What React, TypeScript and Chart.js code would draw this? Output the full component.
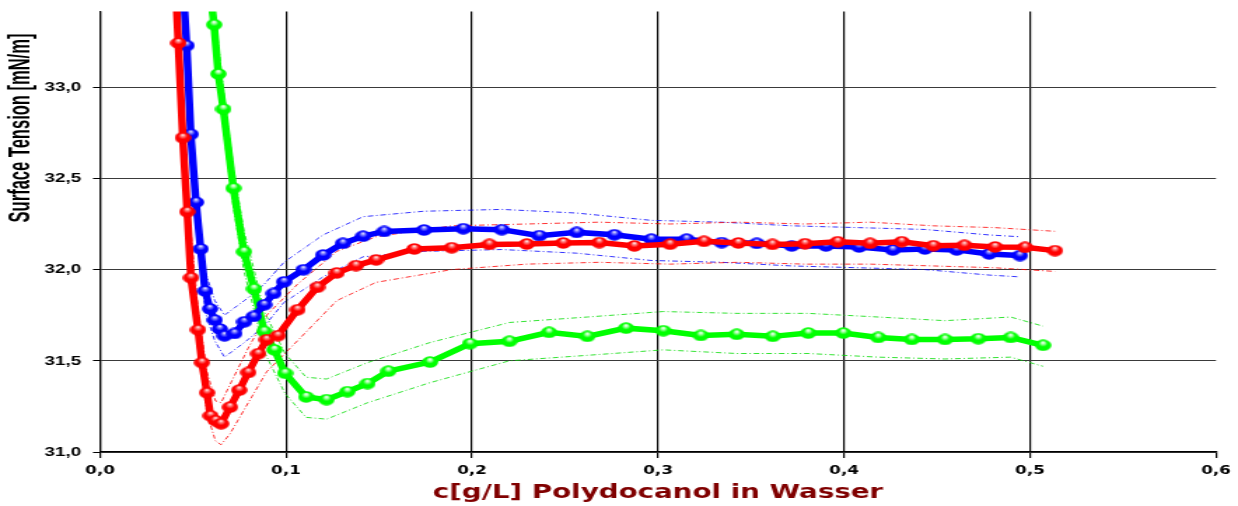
import React, { useEffect, useRef } from 'react';
import { Chart, registerables } from 'chart.js';

Chart.register(...registerables);

// ---- data ----
const redX = [0.0385, 0.0421, 0.0445, 0.0469, 0.0489, 0.0527, 0.0548, 0.0575, 0.0594, 0.0621, 0.0651, 0.0699, 0.0748, 0.0797, 0.0851, 0.0896, 0.0956, 0.1062, 0.1168, 0.1273, 0.1376, 0.1484, 0.1690, 0.1891, 0.2093, 0.2294, 0.2491, 0.2684, 0.2873, 0.3065, 0.3247, 0.3432, 0.3615, 0.3790, 0.3966, 0.4140, 0.4310, 0.4480, 0.4647, 0.4812, 0.4973, 0.5134];
const redY = [34.0, 33.242, 32.723, 32.317, 31.955, 31.670, 31.490, 31.325, 31.199, 31.172, 31.155, 31.246, 31.339, 31.436, 31.539, 31.616, 31.638, 31.780, 31.903, 31.982, 32.022, 32.053, 32.113, 32.120, 32.138, 32.140, 32.146, 32.148, 32.130, 32.139, 32.155, 32.146, 32.138, 32.142, 32.153, 32.144, 32.153, 32.131, 32.133, 32.124, 32.122, 32.104];

const blueX = [0.042, 0.0466, 0.0488, 0.0516, 0.0541, 0.0565, 0.0591, 0.0617, 0.0644, 0.0669, 0.0723, 0.0776, 0.0826, 0.0883, 0.0933, 0.0989, 0.1093, 0.1199, 0.1306, 0.1414, 0.1528, 0.1742, 0.1953, 0.2160, 0.2362, 0.2563, 0.2765, 0.2964, 0.3154, 0.3342, 0.3531, 0.3719, 0.3903, 0.4081, 0.4262, 0.4435, 0.4606, 0.4780, 0.4946];
const blueY = [34.0, 33.228, 32.742, 32.369, 32.113, 31.883, 31.785, 31.723, 31.674, 31.637, 31.650, 31.714, 31.743, 31.807, 31.869, 31.933, 31.999, 32.080, 32.144, 32.183, 32.209, 32.217, 32.224, 32.219, 32.186, 32.204, 32.191, 32.167, 32.167, 32.148, 32.144, 32.130, 32.130, 32.124, 32.108, 32.113, 32.108, 32.086, 32.077];

const greenX = [0.054, 0.0613, 0.0636, 0.0663, 0.0717, 0.0774, 0.0828, 0.0883, 0.0938, 0.0995, 0.1108, 0.1218, 0.1330, 0.1438, 0.1550, 0.1774, 0.1989, 0.2201, 0.2414, 0.2620, 0.2828, 0.3028, 0.3230, 0.3423, 0.3617, 0.3808, 0.3996, 0.4184, 0.4364, 0.4543, 0.4722, 0.4896, 0.5070];
const greenY = [34.0, 33.343, 33.073, 32.880, 32.446, 32.098, 31.895, 31.661, 31.560, 31.432, 31.302, 31.287, 31.331, 31.375, 31.443, 31.493, 31.594, 31.607, 31.656, 31.634, 31.679, 31.665, 31.639, 31.645, 31.634, 31.652, 31.652, 31.628, 31.617, 31.617, 31.621, 31.628, 31.585];

// confidence bands
const redBandX = [0.0385, 0.0421, 0.0469, 0.0527, 0.0575, 0.0621, 0.0651, 0.0699, 0.0797, 0.0896, 0.1062, 0.1273, 0.1484, 0.1891, 0.2294, 0.2684, 0.3065, 0.3432, 0.3790, 0.4140, 0.4480, 0.4812, 0.5134];
const redUpper = [34.1, 33.35, 32.43, 31.78, 31.44, 31.28, 31.27, 31.37, 31.57, 31.75, 31.92, 32.10, 32.18, 32.24, 32.25, 32.26, 32.25, 32.26, 32.25, 32.26, 32.24, 32.23, 32.21];
const redLower = [33.9, 33.13, 32.21, 31.56, 31.21, 31.06, 31.04, 31.10, 31.27, 31.44, 31.61, 31.83, 31.93, 32.00, 32.03, 32.04, 32.03, 32.04, 32.03, 32.03, 32.02, 32.01, 31.99];

const blueBandX = [0.042, 0.0466, 0.0516, 0.0565, 0.0617, 0.0669, 0.0776, 0.0883, 0.0989, 0.1199, 0.1414, 0.1742, 0.2160, 0.2563, 0.2964, 0.3342, 0.3719, 0.4081, 0.4435, 0.4780, 0.4946];
const blueUpper = [34.1, 33.34, 32.48, 31.99, 31.83, 31.75, 31.83, 31.92, 32.04, 32.19, 32.29, 32.32, 32.33, 32.31, 32.27, 32.26, 32.24, 32.23, 32.22, 32.19, 32.18];
const blueLower = [33.9, 33.12, 32.26, 31.77, 31.61, 31.52, 31.60, 31.69, 31.82, 31.96, 32.07, 32.10, 32.11, 32.09, 32.05, 32.04, 32.02, 32.01, 32.00, 31.97, 31.96];

const greenBandX = [0.054, 0.0613, 0.0663, 0.0717, 0.0774, 0.0828, 0.0883, 0.0995, 0.1108, 0.1218, 0.1438, 0.1774, 0.2201, 0.2620, 0.3028, 0.3423, 0.3808, 0.4184, 0.4543, 0.4896, 0.5070];
const greenUpper = [34.1, 33.45, 32.99, 32.56, 32.21, 32.00, 31.77, 31.54, 31.41, 31.40, 31.49, 31.60, 31.71, 31.74, 31.77, 31.76, 31.76, 31.74, 31.72, 31.74, 31.69];
const greenLower = [33.9, 33.23, 32.77, 32.34, 31.99, 31.78, 31.55, 31.32, 31.19, 31.18, 31.27, 31.38, 31.50, 31.53, 31.56, 31.54, 31.54, 31.52, 31.51, 31.52, 31.47];

const xTickValues = [0, 0.1, 0.2, 0.3, 0.4, 0.5, 0.6];
const yTickValues = [31.0, 31.5, 32.0, 32.5, 33.0];
const xMin = 0;
const xMax = 0.6;
const yMin = 31.0;
const yMax = 33.415;

const xTitle = 'c[g/L] Polydocanol in Wasser';
const yTitle = 'Surface Tension [mN/m]';

// ---- layout (internal canvas is stretched horizontally) ----
const OUT_W = 1238;
const OUT_H = 506;
const IN_W = 884;
const SX = OUT_W / IN_W;

const pts = (xs: number[], ys: number[]) => xs.map((x, i) => ({ x, y: ys[i] }));

function sphere(color: string, light: string, dark: string): HTMLCanvasElement {
  const c = document.createElement('canvas');
  c.width = 12;
  c.height = 12;
  const g = c.getContext('2d')!;
  const grad = g.createRadialGradient(6, 3.0, 0.2, 6, 6.2, 6.6);
  grad.addColorStop(0, '#ffffff');
  grad.addColorStop(0.16, light);
  grad.addColorStop(0.45, color);
  grad.addColorStop(0.85, color);
  grad.addColorStop(1, dark);
  g.fillStyle = grad;
  g.beginPath();
  g.arc(6, 6, 5.8, 0, Math.PI * 2);
  g.fill();
  return c;
}

const yTitlePlugin = {
  id: 'yTitleDraw',
  afterDraw(chart: any) {
    const ctx = chart.ctx;
    ctx.save();
    ctx.font = 'bold 22px "Liberation Sans", Arial, sans-serif';
    ctx.fillStyle = '#000000';
    ctx.textAlign = 'center';
    ctx.textBaseline = 'middle';
    ctx.translate(15, 128);
    ctx.rotate(-Math.PI / 2);
    ctx.scale(0.751, 1);
    ctx.fillText(yTitle, 0, 0);
    ctx.restore();
  },
};

export default function App() {
  const ref = useRef<HTMLCanvasElement | null>(null);

  useEffect(() => {
    if (!ref.current) return;
    const redImg = sphere('#ff0000', '#ff9090', '#b00000');
    const blueImg = sphere('#0000ff', '#9090ff', '#0000a8');
    const greenImg = sphere('#00ff00', '#b8ffb8', '#00b400');

    const main = (data: any, color: string, img: HTMLCanvasElement, order: number) => ({
      data,
      borderColor: color,
      backgroundColor: color,
      borderWidth: 5.5,
      pointStyle: img,
      pointRadius: 6,
      tension: 0,
      clip: 0,
      order,
    });
    const band = (data: any, color: string, order: number) => ({
      data,
      borderColor: color,
      borderWidth: 1,
      borderDash: [4, 2, 1, 2],
      pointRadius: 0,
      tension: 0,
      clip: 0,
      order,
    });

    const chart = new Chart(ref.current, {
      type: 'line',
      data: {
        datasets: [
          main(pts(redX, redY), '#ff0000', redImg, 0),
          main(pts(blueX, blueY), '#0000ff', blueImg, 1),
          main(pts(greenX, greenY), '#00ff00', greenImg, 2),
          band(pts(redBandX, redUpper), 'rgba(255,0,0,0.8)', 3),
          band(pts(redBandX, redLower), 'rgba(255,0,0,0.8)', 3),
          band(pts(blueBandX, blueUpper), 'rgba(0,0,255,0.8)', 4),
          band(pts(blueBandX, blueLower), 'rgba(0,0,255,0.8)', 4),
          band(pts(greenBandX, greenUpper), 'rgba(0,220,0,0.8)', 5),
          band(pts(greenBandX, greenLower), 'rgba(0,220,0,0.8)', 5),
        ] as any,
      },
      options: {
        responsive: false,
        animation: false,
        events: [],
        layout: { padding: { top: 10, right: (OUT_W - 1216) / SX, left: 0, bottom: 0 } },
        plugins: { legend: { display: false }, tooltip: { enabled: false } },
        scales: {
          x: {
            type: 'linear',
            min: xMin,
            max: xMax,
            afterBuildTicks: (s: any) => {
              s.ticks = xTickValues.map((v) => ({ value: v }));
            },
            afterFit: (s: any) => {
              s.height = OUT_H - 452;
              s.paddingLeft = 0;
              s.paddingRight = 0;
            },
            ticks: {
              autoSkip: false,
              maxRotation: 0,
              color: '#000000',
              padding: 6,
              font: { family: '"DejaVu Sans", Verdana, sans-serif', size: 12, weight: 'bold' },
              callback: (v: any) => Number(v).toFixed(1).replace('.', ','),
            },
            grid: {
              color: (c: any) => (c.tick && c.tick.value > 0.55 ? 'rgba(0,0,0,0)' : '#000000'),
              lineWidth: 1.2,
              tickLength: 6,
              tickColor: '#000000',
            },
            border: { color: '#000000', width: 1.2 },
            title: {
              display: true,
              text: xTitle,
              color: '#800000',
              font: { family: '"DejaVu Sans", Verdana, sans-serif', size: 19.8, weight: 'bold' },
              padding: { top: 0, bottom: 1 },
            },
          },
          y: {
            type: 'linear',
            min: yMin,
            max: yMax,
            afterBuildTicks: (s: any) => {
              s.ticks = yTickValues.map((v) => ({ value: v }));
            },
            afterFit: (s: any) => {
              s.width = 100 / SX;
              s.paddingTop = 0;
              s.paddingBottom = 0;
            },
            ticks: {
              color: '#000000',
              padding: 8.5,
              font: { family: '"Liberation Sans", Arial, sans-serif', size: 13.5, weight: 'bold' },
              callback: (v: any) => Number(v).toFixed(1).replace('.', ','),
            },
            grid: {
              color: '#3a3a3a',
              lineWidth: 1,
              tickLength: 5,
              tickColor: '#000000',
            },
            border: { color: '#000000', width: 1.2 },
          },
        },
      } as any,
      plugins: [yTitlePlugin],
    });
    return () => chart.destroy();
  }, []);

  return (
    <div style={{ position: 'absolute', left: 0, top: 0, width: OUT_W, height: OUT_H, background: '#ffffff' }}>
      <canvas
        ref={ref}
        width={IN_W}
        height={OUT_H}
        style={{ width: OUT_W + 'px', height: OUT_H + 'px', display: 'block' }}
      />
    </div>
  );
}
